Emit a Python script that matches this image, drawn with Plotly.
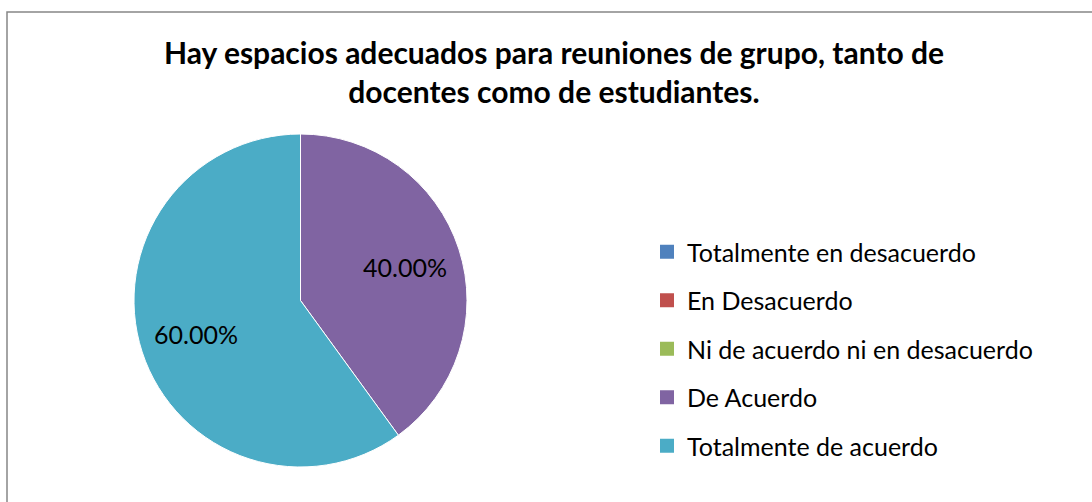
import math
import plotly.graph_objects as go

# Survey responses (percent of respondents)
categories = [
    "Totalmente en desacuerdo",
    "En Desacuerdo",
    "Ni de acuerdo ni en desacuerdo",
    "De Acuerdo",
    "Totalmente de acuerdo",
]
values = [0, 0, 0, 40, 60]
colors = ["#4F81BD", "#C0504D", "#9BBB59", "#8064A2", "#4BACC6"]
title_text = ("Hay espacios adecuados para reuniones de grupo, tanto de<br>"
              "docentes como de estudiantes.")

W, H = 1092, 502
FONT = "Lato"

# pie placement (pixels)
cx, cy, R = 300.5, 300.5, 166.5

fig = go.Figure()
fig.add_trace(go.Pie(
    labels=categories,
    values=values,
    marker=dict(colors=colors, line=dict(color="white", width=1)),
    sort=False,
    direction="clockwise",
    rotation=0,
    textinfo="none",
    hoverinfo="label+percent",
    showlegend=False,
    domain=dict(x=[(cx - R) / W, (cx + R) / W],
                y=[1 - (cy + R) / H, 1 - (cy - R) / H]),
))

# legend entries as square markers, one group each for even spacing
for name, col in zip(categories, colors):
    fig.add_trace(go.Scatter(
        x=[None], y=[None], mode="markers", name=name,
        legendgroup=name,
        marker=dict(symbol="square", size=14, color=col),
    ))

# percentage labels placed at each slice's mid-angle
total = sum(values)
annotations = []
cum = 0.0
for v in values:
    frac = v / total
    if v > 0:
        theta = 2 * math.pi * (cum + frac / 2)
        r = 0.66 * R
        px = cx + r * math.sin(theta)
        py = cy - r * math.cos(theta)
        annotations.append(dict(
            x=px / W, y=1 - py / H, xref="paper", yref="paper",
            xanchor="center", yanchor="middle",
            text=f"{frac * 100:.2f}%", showarrow=False,
            font=dict(family=FONT, size=25, color="black"),
        ))
    cum += frac

fig.update_layout(
    width=W, height=H,
    margin=dict(l=0, r=0, t=0, b=0),
    paper_bgcolor="white",
    plot_bgcolor="white",
    xaxis=dict(visible=False),
    yaxis=dict(visible=False),
    title=dict(
        text=f"<b>{title_text}</b>",
        x=554 / W, xanchor="center",
        y=1 - 64 / H, yanchor="top",
        font=dict(family=FONT, size=30, color="black"),
    ),
    legend=dict(
        x=647 / W, xanchor="left",
        y=1 - 229 / H, yanchor="top",
        font=dict(family=FONT, size=25, color="black"),
        traceorder="grouped",
        tracegroupgap=13,
        itemwidth=30,
        bgcolor="rgba(0,0,0,0)",
    ),
    annotations=annotations,
    shapes=[dict(
        type="rect", xref="paper", yref="paper",
        x0=7 / W, y0=-0.05, x1=1.05, y1=1 - 12 / H,
        line=dict(color="#868686", width=1.5),
        fillcolor="rgba(0,0,0,0)", layer="below",
    )],
)

fig.write_html("out.html")
